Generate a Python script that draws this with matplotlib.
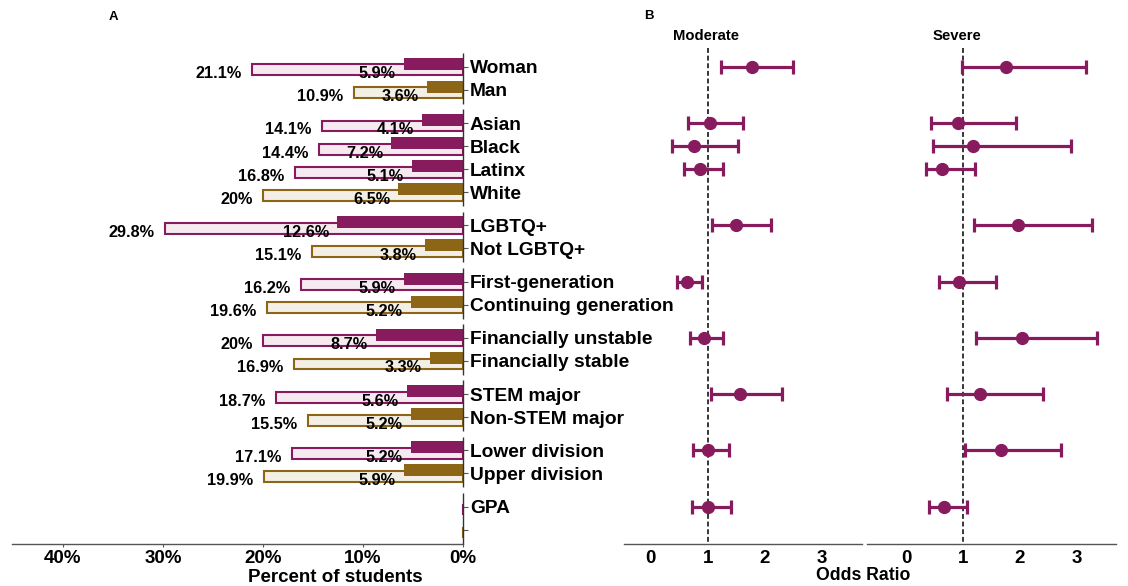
import matplotlib
matplotlib.use("Agg")
import matplotlib.pyplot as plt
import numpy as np

plt.rcParams['font.family'] = ['Liberation Sans', 'DejaVu Sans']
plt.rcParams['font.weight'] = 'bold'

# ---------------- data ----------------
groups = [
    ["Woman", "Man"],
    ["Asian", "Black", "Latinx", "White"],
    ["LGBTQ+", "Not LGBTQ+"],
    ["First-generation", "Continuing generation"],
    ["Financially unstable", "Financially stable"],
    ["STEM major", "Non-STEM major"],
    ["Lower division", "Upper division"],
    ["GPA", ""],
]
# 1 = minoritized/purple row, 0 = reference/gold row
row_kind = [1, 0, 1, 1, 1, 0, 1, 0, 1, 0, 1, 0, 1, 0, 1, 0, 1, 0]
total_pct = [21.1, 10.9, 14.1, 14.4, 16.8, 20.0, 29.8, 15.1, 16.2, 19.6,
             20.0, 16.9, 18.7, 15.5, 17.1, 19.9, 0.0, 0.0]
severe_pct = [5.9, 3.6, 4.1, 7.2, 5.1, 6.5, 12.6, 3.8, 5.9, 5.2,
              8.7, 3.3, 5.6, 5.2, 5.2, 5.9, 0.0, 0.0]
total_lbl = ["21.1%", "10.9%", "14.1%", "14.4%", "16.8%", "20%", "29.8%", "15.1%",
             "16.2%", "19.6%", "20%", "16.9%", "18.7%", "15.5%", "17.1%", "19.9%", "", ""]
severe_lbl = ["5.9%", "3.6%", "4.1%", "7.2%", "5.1%", "6.5%", "12.6%", "3.8%",
              "5.9%", "5.2%", "8.7%", "3.3%", "5.6%", "5.2%", "5.2%", "5.9%", "", ""]

# Odds ratios (rows shown in panel B)
or_rows = ["Woman", "Asian", "Black", "Latinx", "LGBTQ+", "First-generation",
           "Financially unstable", "STEM major", "Lower division", "GPA"]
mod_or = [1.77, 1.03, 0.75, 0.86, 1.50, 0.64, 0.93, 1.56, 1.00, 1.00]
mod_lo = [1.24, 0.66, 0.37, 0.58, 1.07, 0.46, 0.68, 1.06, 0.74, 0.72]
mod_hi = [2.50, 1.61, 1.53, 1.26, 2.11, 0.90, 1.27, 2.31, 1.37, 1.40]
sev_or = [1.76, 0.91, 1.17, 0.64, 1.97, 0.94, 2.03, 1.30, 1.67, 0.67]
sev_lo = [0.98, 0.44, 0.47, 0.35, 1.20, 0.58, 1.23, 0.72, 1.03, 0.41]
sev_hi = [3.16, 1.93, 2.90, 1.21, 3.27, 1.58, 3.36, 2.40, 2.73, 1.07]

pct_ticks = [0, 10, 20, 30, 40]
pct_ticklabels = ["0%", "10%", "20%", "30%", "40%"]
or_ticks = [0, 1, 2, 3]

# ---------------- style ----------------
PURPLE = "#881A5E"
GOLD = "#8C6616"
PURPLE_L = "#F5EAF0"
GOLD_L = "#F3EFE6"
AXCOL = "#555555"

W, H = 1128, 586
fig = plt.figure(figsize=(W / 100, H / 100), dpi=100)

def ax_rect(x0, x1, ytop, ybot):
    return [x0 / W, 1 - ybot / H, (x1 - x0) / W, (ybot - ytop) / H]

# y layout (facet-like groups)
pad, gap = 0.6, 0.24
ypos, seg = [], []
start = 0.0
for g in groups:
    n = len(g)
    for i in range(n):
        ypos.append(start + pad + i)
    seg.append((start, start + n - 1 + 2 * pad))
    start += n - 1 + 2 * pad + gap
ymax = start - gap
labels = [l for g in groups for l in g]
label_y = dict(zip(labels, ypos))

# ---------------- Panel A ----------------
axA = fig.add_axes(ax_rect(12, 463, 53, 543.5))
axA.set_xlim(45.1, 0)
axA.set_ylim(ymax, 0)
for y, k, t, s in zip(ypos, row_kind, total_pct, severe_pct):
    ec = PURPLE if k else GOLD
    fc = PURPLE_L if k else GOLD_L
    axA.barh(y + 0.13, t, height=0.47, left=0, color=fc, edgecolor=ec,
             linewidth=1.5, zorder=2)
    axA.barh(y - 0.13, s, height=0.52, left=0, color=ec, edgecolor='none',
             zorder=3)
for y, t, s, tl, sl in zip(ypos, total_pct, severe_pct, total_lbl, severe_lbl):
    if tl:
        axA.text(t + 1.05, y + 0.3, tl, ha='right', va='center', fontsize=11.7,
                 fontweight='bold', zorder=5)
    if sl:
        axA.text(s + 0.8, y + 0.3, sl, ha='right', va='center', fontsize=11.7,
                 fontweight='bold', zorder=5)
for (a, b) in seg:
    axA.plot([0, 0], [a, b], color="#333333", lw=1.0, clip_on=False, zorder=6,
             solid_capstyle='butt')
for sp in ['left', 'right', 'top']:
    axA.spines[sp].set_visible(False)
axA.spines['bottom'].set_color(AXCOL)
axA.spines['bottom'].set_linewidth(1.0)
axA.set_xticks(pct_ticks)
axA.set_xticklabels(pct_ticklabels, fontsize=13.5, fontweight='bold')
axA.tick_params(axis='x', length=2, width=0.8, color=AXCOL, pad=3)
axA.yaxis.tick_right()
axA.set_yticks(ypos)
axA.set_yticklabels(labels, fontsize=13.8, fontweight='bold')
axA.tick_params(axis='y', length=3.5, width=0.8, color=AXCOL, pad=1.5)
axA.patch.set_alpha(0)

# ---------------- Panel B ----------------
or_y = [label_y[r] for r in or_rows]

def forest(ax, est, lo, hi, xlim):
    ax.set_xlim(*xlim)
    ax.set_ylim(ymax, 0)
    ax.plot([1, 1], [-0.22, ymax], color='black', lw=1.1,
            linestyle=(0, (3.2, 1.8)), clip_on=False, zorder=1)
    est = np.array(est); lo = np.array(lo); hi = np.array(hi)
    ax.errorbar(est, or_y, xerr=[est - lo, hi - est], fmt='o', color=PURPLE,
                ecolor=PURPLE, elinewidth=2.3, capsize=4.8, capthick=2.3,
                markersize=8.5, zorder=3)
    for sp in ['left', 'right', 'top']:
        ax.spines[sp].set_visible(False)
    ax.spines['bottom'].set_color(AXCOL)
    ax.spines['bottom'].set_linewidth(1.0)
    ax.set_yticks([])
    ax.set_xticks(or_ticks)
    ax.set_xticklabels([str(t) for t in or_ticks], fontsize=13.5, fontweight='bold')
    ax.tick_params(axis='x', length=0, pad=5)
    ax.patch.set_alpha(0)

axM = fig.add_axes(ax_rect(624, 861.7, 53, 543.5))
forest(axM, mod_or, mod_lo, mod_hi, (-0.47, 3.70))
axS = fig.add_axes(ax_rect(866.7, 1116, 53, 543.5))
forest(axS, sev_or, sev_lo, sev_hi, (-0.69, 3.69))

# ---------------- texts ----------------
fig.text(706 / W, 1 - 36.5 / H, "Moderate", ha='center', va='center', fontsize=10.7,
         fontweight='bold')
fig.text(957 / W, 1 - 36.5 / H, "Severe", ha='center', va='center', fontsize=10.7,
         fontweight='bold')
fig.text(113 / W, 1 - 17 / H, "A", ha='center', va='center', fontsize=9.5,
         fontweight='bold')
fig.text(649 / W, 1 - 16 / H, "B", ha='center', va='center', fontsize=9.5,
         fontweight='bold')
fig.text(335 / W, 1 - 577 / H, "Percent of students", ha='center', va='center',
         fontsize=13.5, fontweight='bold')
fig.text(863 / W, 1 - 576 / H, "Odds Ratio", ha='center', va='center',
         fontsize=12.7, fontweight='bold')

fig.savefig("out.png", dpi=100)
